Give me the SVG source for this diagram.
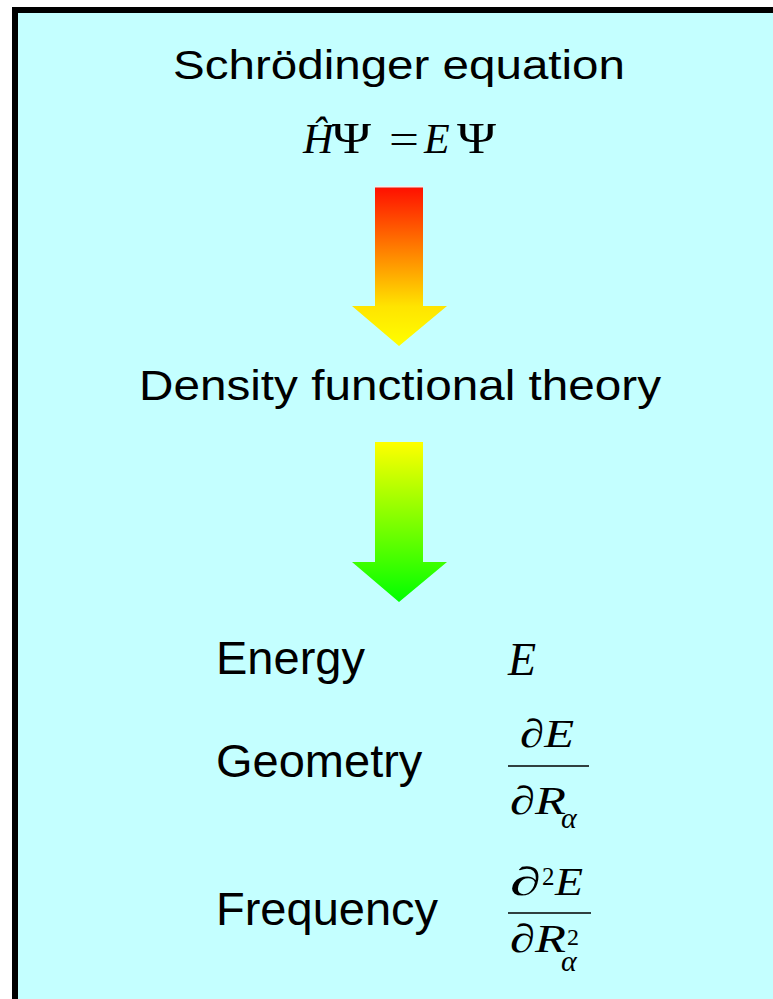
<svg xmlns="http://www.w3.org/2000/svg" width="773" height="999" viewBox="0 0 773 999">
  <defs>
    <linearGradient id="gradRY" x1="0" y1="0" x2="0" y2="1">
      <stop offset="0" stop-color="#FF1000"/>
      <stop offset="0.75" stop-color="#FFE400"/>
      <stop offset="1" stop-color="#FFFF00"/>
    </linearGradient>
    <linearGradient id="gradYG" x1="0" y1="0" x2="0" y2="1">
      <stop offset="0" stop-color="#FFFF00"/>
      <stop offset="1" stop-color="#00FF00"/>
    </linearGradient>
  </defs>
  <style>
    .sans { font-family: "Liberation Sans", Arial, sans-serif; fill: #000; }
    .serif { font-family: "Liberation Serif", "Times New Roman", serif; fill: #000; }
    .it { font-style: italic; }
    .bar { stroke: #000; stroke-width: 1.6; }
  </style>
  <rect x="0" y="0" width="773" height="999" fill="#FFFFFF"/>
  <rect id="panel" x="15" y="10" width="800" height="1020" fill="#C4FFFF" stroke="#000" stroke-width="6"/>

  <g id="title">
    <text class="sans" x="173" y="79" font-size="41" textLength="452" lengthAdjust="spacingAndGlyphs">Schrödinger equation</text>
  </g>
  <g id="equation">
    <text class="serif it" x="303" y="153" font-size="42">Ĥ</text>
    <text class="serif" x="332" y="153" font-size="44" textLength="39" lengthAdjust="spacingAndGlyphs">Ψ</text>
    <text class="serif" x="389" y="153" font-size="42" textLength="30" lengthAdjust="spacingAndGlyphs">=</text>
    <text class="serif it" x="424" y="153" font-size="42">E</text>
    <text class="serif" x="457" y="153" font-size="44" textLength="39" lengthAdjust="spacingAndGlyphs">Ψ</text>
  </g>

  <g id="connectors">
    <g id="arrow1">
      <line x1="375" y1="186.5" x2="423" y2="186.5" stroke="#FFE8E8" stroke-width="1"/>
      <path d="M375,187.5 H423 V306 H447 L399,346 L352,306 H375 Z" fill="url(#gradRY)"/>
    </g>
    <g id="arrow2">
      <path d="M375,442 H423 V562 H447 L399,602 L352,562 H375 Z" fill="url(#gradYG)"/>
    </g>
  </g>

  <g id="dft">
    <text class="sans" x="139" y="400" font-size="42" textLength="522" lengthAdjust="spacingAndGlyphs">Density functional theory</text>
  </g>

  <g id="energy">
    <text class="sans" x="216" y="674" font-size="47">Energy</text>
    <text class="serif it" x="508" y="675" font-size="46">E</text>
  </g>

  <g id="geometry">
    <text class="sans" x="216" y="777" font-size="47">Geometry</text>
    <text class="serif it" x="520" y="747" font-size="40" textLength="54" lengthAdjust="spacingAndGlyphs">∂E</text>
    <line class="bar" x1="508" y1="766" x2="589" y2="766"/>
    <text class="serif it" x="510" y="814" font-size="40" textLength="56" lengthAdjust="spacingAndGlyphs">∂R</text>
    <text class="serif it" x="561" y="828" font-size="30">α</text>
  </g>

  <g id="frequency">
    <text class="sans" x="216" y="925" font-size="47">Frequency</text>
    <text class="serif it" x="510" y="895" font-size="40" textLength="31" lengthAdjust="spacingAndGlyphs">∂</text>
    <text class="serif" x="542" y="885" font-size="25">2</text>
    <text class="serif it" x="555" y="895" font-size="40" textLength="28" lengthAdjust="spacingAndGlyphs">E</text>
    <line class="bar" x1="508" y1="913" x2="591" y2="913"/>
    <text class="serif it" x="510" y="952" font-size="40" textLength="56" lengthAdjust="spacingAndGlyphs">∂R</text>
    <text class="serif" x="567" y="945" font-size="24">2</text>
    <text class="serif it" x="561" y="971" font-size="30">α</text>
  </g>
</svg>
